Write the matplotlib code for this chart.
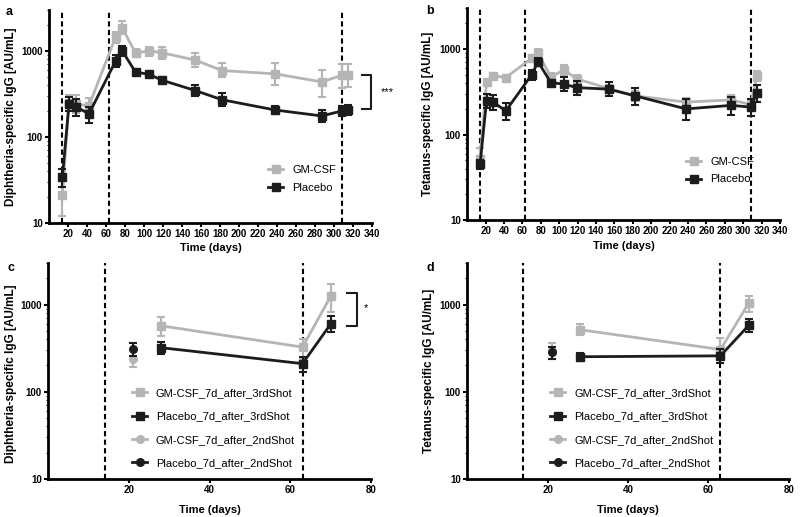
import numpy as np
import matplotlib as mpl
import matplotlib.pyplot as plt
from matplotlib.ticker import LogLocator, NullFormatter, FixedLocator

mpl.rcParams['font.family'] = ['Liberation Sans', 'DejaVu Sans']

GREY = '#b5b5b5'
BLACK = '#1c1c1c'

# ---- panels a / b : full time course ----
days = [14, 21, 28, 42, 70, 77, 91, 105, 119, 154, 182, 238, 287, 308, 315]

# diphtheria (a)
dip_gm = [21, 250, 240, 230, 1450, 1850, 940, 1000, 950, 780, 590, 540, 435, 520, 530]
dip_gm_lo = [12, 200, 190, 190, 1250, 1550, 850, 880, 800, 650, 500, 400, 290, 370, 380]
dip_gm_hi = [35, 310, 310, 280, 1650, 2200, 1050, 1120, 1120, 940, 720, 720, 600, 700, 700]
dip_pl = [34, 240, 225, 185, 760, 1000, 565, 535, 455, 345, 270, 205, 175, 200, 205]
dip_pl_lo = [26, 200, 175, 145, 650, 870, 530, 500, 425, 300, 230, 185, 150, 175, 180]
dip_pl_hi = [42, 290, 275, 225, 900, 1150, 600, 570, 490, 400, 320, 230, 205, 230, 235]

# tetanus (b)
tet_gm = [52, 410, 490, 465, 780, 890, 475, 570, 450, 345, 285, 240, 255, 225, 480]
tet_gm_lo = [45, 380, 460, 440, 700, 800, 430, 480, 400, 310, 250, 215, 225, 200, 420]
tet_gm_hi = [70, 440, 520, 490, 860, 990, 520, 660, 500, 380, 320, 270, 290, 250, 560]
tet_pl = [45, 250, 240, 190, 500, 710, 405, 390, 355, 340, 285, 200, 220, 210, 305]
tet_pl_lo = [40, 205, 195, 150, 440, 640, 370, 320, 290, 285, 225, 150, 170, 165, 240]
tet_pl_hi = [50, 300, 290, 235, 570, 790, 440, 470, 420, 410, 355, 260, 275, 260, 380]

# ---- panels c / d : 7 days after shots ----
shot3_days = [28, 63, 70]
shot2_days = [21]

dip3_gm = [570, 325, 1250]
dip3_gm_lo = [430, 240, 830]
dip3_gm_hi = [720, 400, 1700]
dip3_pl = [320, 210, 600]
dip3_pl_lo = [270, 170, 480]
dip3_pl_hi = [370, 250, 740]
dip2_gm = [240]
dip2_gm_lo = [190]
dip2_gm_hi = [300]
dip2_pl = [310]
dip2_pl_lo = [255]
dip2_pl_hi = [360]

tet3_gm = [515, 305, 1030]
tet3_gm_lo = [450, 250, 830]
tet3_gm_hi = [600, 410, 1250]
tet3_pl = [252, 258, 575]
tet3_pl_lo = [225, 215, 490]
tet3_pl_hi = [280, 310, 680]
tet2_gm = [290]
tet2_gm_lo = [240]
tet2_gm_hi = [360]
tet2_pl = [283]
tet2_pl_lo = [240]
tet2_pl_hi = [330]


def err(v, lo, hi):
    v = np.array(v, float)
    return [v - np.array(lo, float), np.array(hi, float) - v]


def series(ax, x, v, lo, hi, color, marker, label, z):
    ax.errorbar(x, v, yerr=err(v, lo, hi), fmt='none', ecolor=color,
                elinewidth=1.5, capsize=3, capthick=1.5, zorder=z)
    line, = ax.plot(x, v, '-', marker=marker, color=color, lw=2, ms=5.5,
                    label=label, zorder=z + 0.5)
    return line


def style(ax, xmax, xticks, ylabel, xlab_y, ylab_x, ylab_y):
    ax.set_yscale('log')
    ax.set_ylim(10, 3000)
    ax.set_xlim(0, xmax)
    for s in ['top', 'right']:
        ax.spines[s].set_visible(False)
    for s in ['left', 'bottom']:
        ax.spines[s].set_linewidth(2)
    ax.xaxis.set_major_locator(FixedLocator(xticks))
    ax.set_xticklabels([str(t) for t in xticks], fontweight='bold', fontsize=7)
    ax.yaxis.set_major_locator(FixedLocator([10, 100, 1000]))
    ax.set_yticklabels(['10', '100', '1000'], fontweight='bold', fontsize=7)
    ax.yaxis.set_minor_locator(LogLocator(base=10, subs=np.arange(2, 10)))
    ax.yaxis.set_minor_formatter(NullFormatter())
    ax.tick_params(which='major', direction='out', length=3, width=1.5, pad=1.5)
    ax.tick_params(which='minor', direction='out', length=1.5, width=0.8)
    ax.set_xlabel('Time (days)', fontweight='bold', fontsize=8)
    ax.set_ylabel(ylabel, fontweight='bold', fontsize=8.5)
    ax.xaxis.set_label_coords(0.5, xlab_y)
    ax.yaxis.set_label_coords(ylab_x, ylab_y)


def vlines(ax, xs):
    for x in xs:
        ax.axvline(x, color='black', lw=1.5, ls=(0, (2.5, 1.6)), zorder=2)


fig = plt.figure(figsize=(8, 5.17), dpi=100)

ax_a = fig.add_axes([0.0613, 0.569, 0.404, 0.412])
ax_b = fig.add_axes([0.584, 0.574, 0.391, 0.41])
ax_c = fig.add_axes([0.0600, 0.0735, 0.404, 0.418])
ax_d = fig.add_axes([0.584, 0.0735, 0.402, 0.418])

long_ticks = list(range(20, 341, 20))

# panel a
vlines(ax_a, [14, 63, 308])
series(ax_a, days, dip_gm, dip_gm_lo, dip_gm_hi, GREY, 's', 'GM-CSF', 3)
series(ax_a, days, dip_pl, dip_pl_lo, dip_pl_hi, BLACK, 's', 'Placebo', 4)
style(ax_a, 340, long_ticks, 'Diphtheria-specific IgG [AU/mL]', -0.095, -0.099, 0.5)
ax_a.legend(loc='upper left', bbox_to_anchor=(0.678, 0.27), frameon=False,
            fontsize=8, handlelength=1.35, handletextpad=0.8, labelspacing=0.7,
            borderpad=0, borderaxespad=0)
ax_a.plot([329.5, 339, 339, 329.5], [530, 530, 210, 210], color=BLACK, lw=1.5,
          clip_on=False)
ax_a.text(356, 334, '***', ha='center', va='center', fontsize=8, clip_on=False)

# panel b
vlines(ax_b, [14, 63, 308])
series(ax_b, days, tet_gm, tet_gm_lo, tet_gm_hi, GREY, 's', 'GM-CSF', 3)
series(ax_b, days, tet_pl, tet_pl_lo, tet_pl_hi, BLACK, 's', 'Placebo', 4)
style(ax_b, 340, long_ticks, 'Tetanus-specific IgG [AU/mL]', -0.098, -0.107, 0.5)
ax_b.legend(loc='upper left', bbox_to_anchor=(0.70, 0.30), frameon=False,
            fontsize=8, handlelength=1.35, handletextpad=0.8, labelspacing=0.7,
            borderpad=0, borderaxespad=0)

# panel c
vlines(ax_c, [14, 63])
h1 = series(ax_c, shot3_days, dip3_gm, dip3_gm_lo, dip3_gm_hi, GREY, 's',
            'GM-CSF_7d_after_3rdShot', 3)
h2 = series(ax_c, shot3_days, dip3_pl, dip3_pl_lo, dip3_pl_hi, BLACK, 's',
            'Placebo_7d_after_3rdShot', 4)
h3 = series(ax_c, shot2_days, dip2_gm, dip2_gm_lo, dip2_gm_hi, GREY, 'o',
            'GM-CSF_7d_after_2ndShot', 3)
h4 = series(ax_c, shot2_days, dip2_pl, dip2_pl_lo, dip2_pl_hi, BLACK, 'o',
            'Placebo_7d_after_2ndShot', 4)
style(ax_c, 80, [20, 40, 60, 80], 'Diphtheria-specific IgG [AU/mL]', -0.118, -0.096, 0.485)
ax_c.legend(handles=[h1, h2, h3, h4], loc='upper left',
            bbox_to_anchor=(0.26, 0.42), frameon=False, fontsize=8,
            handlelength=1.35, handletextpad=0.8, labelspacing=1.2,
            borderpad=0, borderaxespad=0)
ax_c.plot([74, 76.4, 76.4, 74], [1340, 1340, 571, 571], color=BLACK, lw=1.5,
          clip_on=False)
ax_c.text(78.8, 900, '*', ha='center', va='center', fontsize=8, clip_on=False)

# panel d
vlines(ax_d, [14, 63])
g1 = series(ax_d, shot3_days, tet3_gm, tet3_gm_lo, tet3_gm_hi, GREY, 's',
            'GM-CSF_7d_after_3rdShot', 3)
g2 = series(ax_d, shot3_days, tet3_pl, tet3_pl_lo, tet3_pl_hi, BLACK, 's',
            'Placebo_7d_after_3rdShot', 4)
g3 = series(ax_d, shot2_days, tet2_gm, tet2_gm_lo, tet2_gm_hi, GREY, 'o',
            'GM-CSF_7d_after_2ndShot', 3)
g4 = series(ax_d, shot2_days, tet2_pl, tet2_pl_lo, tet2_pl_hi, BLACK, 'o',
            'Placebo_7d_after_2ndShot', 4)
style(ax_d, 80, [20, 40, 60, 80], 'Tetanus-specific IgG [AU/mL]', -0.118, -0.099, 0.5)
ax_d.legend(handles=[g1, g2, g3, g4], loc='upper left',
            bbox_to_anchor=(0.258, 0.42), frameon=False, fontsize=8,
            handlelength=1.35, handletextpad=0.8, labelspacing=1.2,
            borderpad=0, borderaxespad=0)

# panel letters
for letter, (px, py) in zip('abcd', [(9, 12), (430, 11), (11, 268), (430, 268)]):
    fig.text(px / 800, 1 - py / 517, letter, fontweight='bold', fontsize=9,
             ha='center', va='center')

fig.savefig('out.png', dpi=100)
